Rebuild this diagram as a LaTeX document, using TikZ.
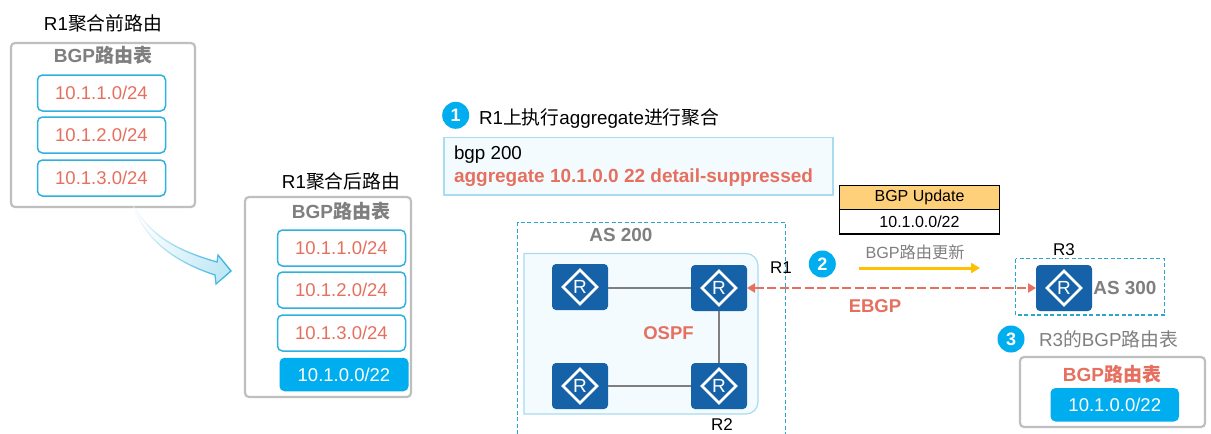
\documentclass[tikz,border=0pt]{standalone}
\usepackage{fontspec}
\setmainfont{Liberation Sans}
\newfontfamily\cjk{Noto Sans CJK SC}
\usetikzlibrary{arrows.meta,fadings}
\definecolor{redtxt}{HTML}{E6705F}
\definecolor{graytxt}{HTML}{7F7F7F}
\definecolor{cyanline}{HTML}{2FB1E0}
\definecolor{bluefill}{HTML}{00AEEF}
\definecolor{panelfill}{HTML}{F3FBFE}
\definecolor{panelline}{HTML}{A8DCEE}
\definecolor{routerblue}{HTML}{1562A8}
\definecolor{graybox}{HTML}{BFBFBF}
\definecolor{dashline}{HTML}{2BA6CB}
\definecolor{headfill}{HTML}{FFD07A}
\definecolor{arrowyellow}{HTML}{FFC000}
\newcommand{\fs}[1]{\fontsize{#1}{#1}\selectfont}
\tikzset{
  x=1pt,y=-1pt,
  every node/.style={inner sep=0pt,outer sep=0pt},
  tablebox/.style={draw=graybox,line width=2.2pt,fill=white,rounded corners=4pt},
  routebox/.style={draw=cyanline,line width=1.5pt,fill=white,rounded corners=5pt,minimum width=128pt,minimum height=36pt,text=redtxt,font=\fs{18.5}},
  bluebox/.style={fill=bluefill,rounded corners=5pt,minimum height=33.5pt,text=white,font=\fs{18.5}},
  tabletitle/.style={text=graytxt,font=\fs{19}\bfseries},
  plaintitle/.style={text=black,font=\fs{18.8}},
  stepdot/.style={circle,fill=bluefill,minimum size=27pt,text=white,font=\fs{18}\bfseries},
  panelbox/.style={draw=panelline,line width=1.2pt,fill=panelfill},
  asline/.style={draw=dashline,line width=1.3pt,dash pattern=on 4pt off 2.5pt},
  routerbox/.style={fill=routerblue,rounded corners=4pt,minimum width=56pt,minimum height=46pt,text=white,font=\fs{19}},
  ospfline/.style={draw=graytxt,line width=2.5pt},
  boldred/.style={text=redtxt,font=\fs{18.5}\bfseries},
  boldgray/.style={text=graytxt,font=\fs{18.9}\bfseries},
  routerlabel/.style={text=black,font=\fs{17}},
}
\newcommand{\router}[3]{%
  \node[routerbox] (#1) at (#2,#3) {R};
  \draw[white,line width=2.6pt,line join=miter] (#1.center) ++(-17,0) -- ++(17,-17) -- ++(17,17) -- ++(-17,17) -- cycle;
}
\tikzfading[name=arrowfade,left color=transparent!100,right color=transparent!0]
\begin{document}
\begin{tikzpicture}
\useasboundingbox (0,0) rectangle (1211,434);
\fill[white] (0,0) rectangle (1211,434);

% before aggregation
\node[plaintitle] (t1) at (103,23) {R1{\cjk 聚合前路由}};
\node[tablebox,minimum width=184pt,minimum height=164pt] (box1) at (103,125) {};
\node[tabletitle] (h1) at (103,55.5) {BGP{\cjk 路由表}};
\node[routebox] (a1) at (101.5,93) {10.1.1.0/24};
\node[routebox] (a2) at (101.5,135) {10.1.2.0/24};
\node[routebox] (a3) at (101.5,178) {10.1.3.0/24};

% after aggregation
\node[plaintitle] (t2) at (341,181.5) {R1{\cjk 聚合后路由}};
\node[tablebox,minimum width=166pt,minimum height=200pt] (box2) at (328,297) {};
\node[tabletitle] (h2) at (341,211.5) {BGP{\cjk 路由表}};
\node[routebox] (b1) at (341.5,248) {10.1.1.0/24};
\node[routebox] (b2) at (341.5,290) {10.1.2.0/24};
\node[routebox] (b3) at (341.5,333) {10.1.3.0/24};
\node[bluebox,minimum width=129pt] (b4) at (344,374.5) {10.1.0.0/22};

% curved arrow
\path[left color=white,right color=cyanline!30,shading angle=70]
  (133,205) .. controls (150,235) and (175,250) .. (217,262) -- (218,255) -- (231,271) -- (216,284) -- (215,275) .. controls (175,262) and (145,240) .. (133,205) -- cycle;
\draw[draw=cyanline,line width=1.3pt,line join=miter,path fading=arrowfade]
  (133,205) .. controls (150,235) and (175,250) .. (217,262) -- (218,255) -- (231,271) -- (216,284) -- (215,275) .. controls (175,262) and (145,240) .. (133,205) -- cycle;

% step 1
\node[stepdot] (s1) at (455.7,115.3) {1};
\node[plaintitle,anchor=west] (s1t) at (479,118.5) {R1{\cjk 上执行}aggregate{\cjk 进行聚合}};
\node[panelbox,minimum width=389pt,minimum height=57.5pt] (cmd) at (638.5,166.25) {};
\node[anchor=west,font=\fs{18.8}] (cmd1) at (454,155) {bgp 200};
\node[anchor=west,text=redtxt,font=\fs{19}\bfseries] (cmd2) at (454,178) {aggregate 10.1.0.0 22 detail-suppressed};

% AS 200
\draw[asline] (517.5,434) -- (517.5,222.5) -- (785.5,222.5) -- (785.5,434);
\node[boldgray] (as200) at (621,235) {AS 200};
\draw[panelbox,rounded corners=0pt] (524,253.5) -- (746,253.5) arc[start angle=90,end angle=0,x radius=12,y radius=-12] -- (758,402) arc[start angle=0,end angle=-90,x radius=12,y radius=-12] -- (524,414) -- cycle;
\router{ra}{580}{287}
\router{rb}{719}{288}
\router{rc}{580}{386}
\router{rd}{719}{386}
\draw[ospfline] (ra.east |- rb.east) -- (rb.west);
\draw[ospfline] (rb.south) -- (rd.north);
\draw[ospfline] (rc.east) -- (rd.west);
\node[boldred] (ospf) at (668.5,333) {OSPF};
\node[routerlabel] (lr1) at (781,267.5) {R1};
\node[routerlabel] (lr2) at (722,425) {R2};

% step 2
\node[stepdot] (s2) at (822.3,264) {2};
\node[draw=black,line width=1.2pt,fill=headfill,minimum width=160pt,minimum height=24pt,font=\fs{16}] (upd) at (919.5,197.5) {BGP Update};
\node[draw=black,line width=1.2pt,fill=white,minimum width=160pt,minimum height=24.5pt,font=\fs{16}] (updv) at (919.5,221.75) {10.1.0.0/22};
\node[text=graytxt,font=\fs{16.2}] (updt) at (915,252.5) {BGP{\cjk 路由更新}};
\coordinate (ya) at (859,268);
\coordinate (yb) at (980,268);
\draw[draw=arrowyellow,line width=3pt,-{Triangle[length=9pt,width=10pt]}] (ya) -- (yb);

% AS 300
\draw[asline] (1015.5,258.5) rectangle (1164.5,315);
\router{rr}{1064}{288}
\node[routerlabel] (lr3) at (1064,250) {R3};
\node[boldgray] (as300) at (1125,288) {AS 300};
\draw[draw=redtxt,line width=2.9pt,dash pattern=on 9pt off 3.5pt,{Triangle[length=8pt,width=9pt]}-{Triangle[length=8pt,width=9pt]}] (rb.east) -- (rr.west);
\node[boldred] (ebgp) at (875,306) {EBGP};

% step 3
\node[stepdot] (s3) at (1011,339) {3};
\node[anchor=west,text=graytxt,font=\fs{18.8}] (s3t) at (1039,339.5) {R3{\cjk 的}BGP{\cjk 路由表}};
\node[tablebox,minimum width=185pt,minimum height=70pt] (box3) at (1112.5,392) {};
\node[boldred,font=\fs{19}\bfseries] (h3) at (1112,374) {BGP{\cjk 路由表}};
\node[bluebox,minimum width=128.5pt] (c1) at (1114.75,404.75) {10.1.0.0/22};
\end{tikzpicture}
\end{document}
